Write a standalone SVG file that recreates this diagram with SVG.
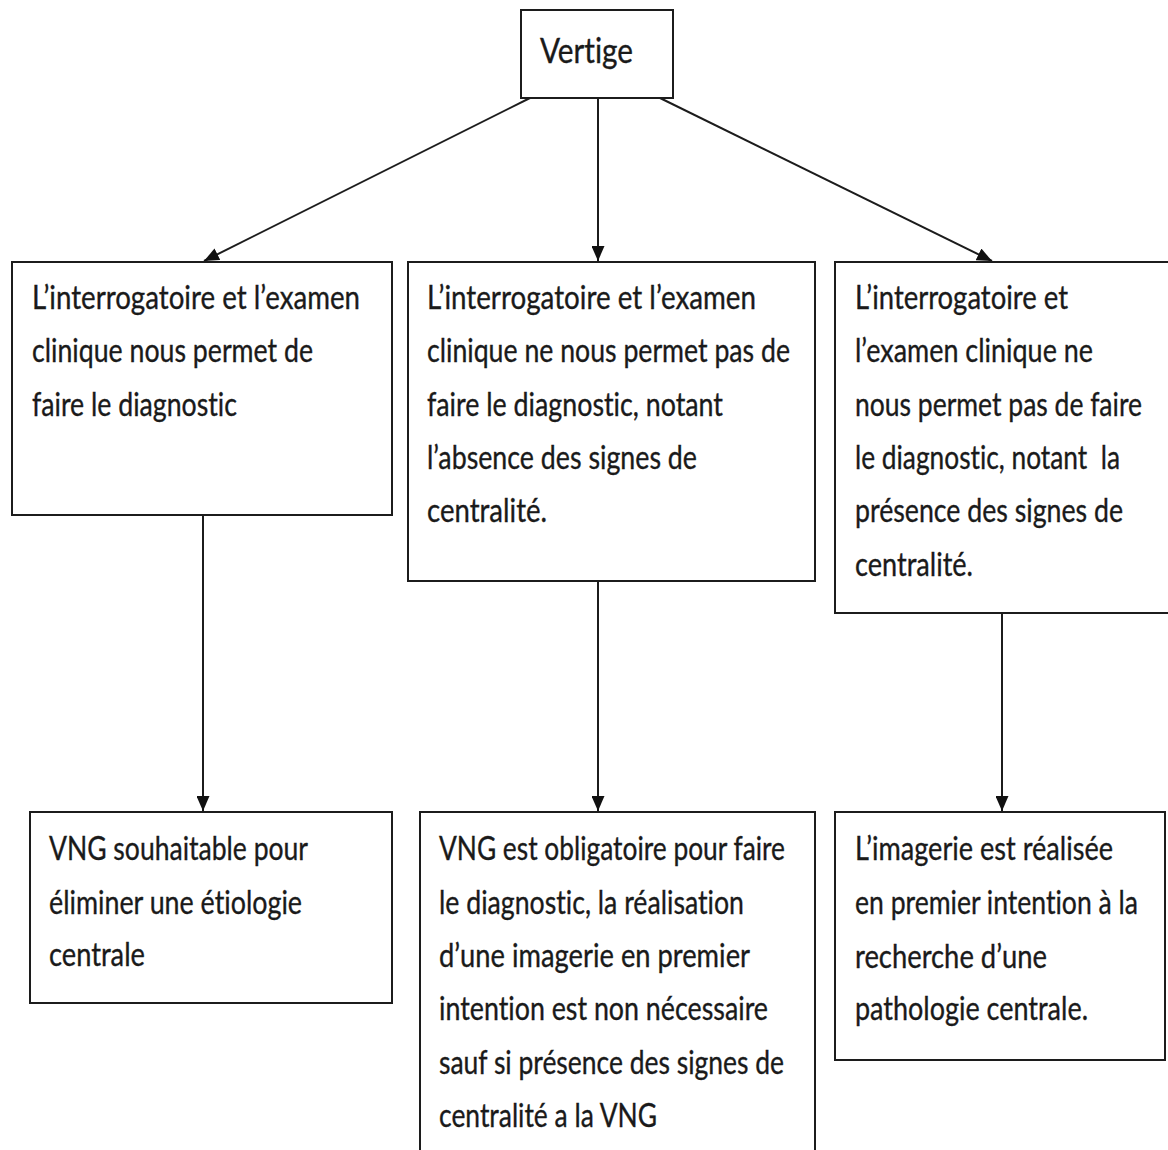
<svg xmlns="http://www.w3.org/2000/svg" width="1168" height="1150" viewBox="0 0 1168 1150">
  <defs>
    <marker id="arrow" markerUnits="userSpaceOnUse" markerWidth="15" markerHeight="13" refX="15" refY="6.5" orient="auto">
      <path d="M0,0 L15,6.5 L0,13 z" fill="#111"/>
    </marker>
    <style>
      .box { fill: #fff; stroke: #1c1c1c; stroke-width: 2; }
      .open { fill: none; stroke: #1c1c1c; stroke-width: 2; }
      .lbl { font-family: Lato, "Open Sans", "Liberation Sans", sans-serif; font-size: 27.5px; fill: #1a1a1a; font-variant-ligatures: none; stroke: #1a1a1a; stroke-width: 0.3; }
      .title { font-size: 29px; }
      .edge { stroke: #1c1c1c; stroke-width: 2; fill: none; marker-end: url(#arrow); }
    </style>
  </defs>
  <rect width="1168" height="1150" fill="#fff"/>

  <!-- connectors -->
  <g id="connectors">
    <line class="edge" x1="530" y1="98" x2="204" y2="261"/>
    <line class="edge" x1="598" y1="98" x2="598" y2="261"/>
    <line class="edge" x1="660" y1="98" x2="992" y2="261"/>
    <line class="edge" x1="203" y1="515" x2="203" y2="811"/>
    <line class="edge" x1="598" y1="581" x2="598" y2="811"/>
    <line class="edge" x1="1002" y1="613" x2="1002" y2="811"/>
  </g>

  <!-- labels use tall, narrow lettering: each text group is stretched 1.2x vertically,
       so its y values are the baselines divided by 1.2 -->

  <!-- root -->
  <g id="vertige">
    <rect class="box" x="521" y="10" width="152" height="88"/>
    <g transform="scale(1,1.2)">
      <text class="lbl title" x="540" y="52.5" textLength="93" lengthAdjust="spacingAndGlyphs">Vertige</text>
    </g>
  </g>

  <!-- first level -->
  <g id="diag-ok">
    <rect class="box" x="12" y="262" width="380" height="253"/>
    <g transform="scale(1,1.2)">
      <text class="lbl" x="32" y="257.5" textLength="328" lengthAdjust="spacingAndGlyphs">L’interrogatoire et l’examen</text>
      <text class="lbl" x="32" y="301.7" textLength="281" lengthAdjust="spacingAndGlyphs">clinique nous permet de</text>
      <text class="lbl" x="32" y="346.7" textLength="205" lengthAdjust="spacingAndGlyphs">faire le diagnostic</text>
    </g>
  </g>

  <g id="diag-absence">
    <rect class="box" x="408" y="262" width="407" height="319"/>
    <g transform="scale(1,1.2)">
      <text class="lbl" x="427" y="257.5" textLength="329" lengthAdjust="spacingAndGlyphs">L’interrogatoire et l’examen</text>
      <text class="lbl" x="427" y="301.7" textLength="363" lengthAdjust="spacingAndGlyphs">clinique ne nous permet pas de</text>
      <text class="lbl" x="427" y="346.7" textLength="296" lengthAdjust="spacingAndGlyphs">faire le diagnostic, notant</text>
      <text class="lbl" x="427" y="390.8" textLength="270" lengthAdjust="spacingAndGlyphs">l’absence des signes de</text>
      <text class="lbl" x="427" y="435" textLength="120" lengthAdjust="spacingAndGlyphs">centralité.</text>
    </g>
  </g>

  <!-- this box runs on past the right border, so its right side is not drawn -->
  <g id="diag-presence">
    <rect x="835" y="262" width="333" height="351" fill="#fff"/>
    <path class="open" d="M1168,262 H835 V613 H1168"/>
    <g transform="scale(1,1.2)">
      <text class="lbl" x="855" y="257.5" textLength="213" lengthAdjust="spacingAndGlyphs">L’interrogatoire et</text>
      <text class="lbl" x="855" y="301.7" textLength="238" lengthAdjust="spacingAndGlyphs">l’examen clinique ne</text>
      <text class="lbl" x="855" y="346.7" textLength="287" lengthAdjust="spacingAndGlyphs">nous permet pas de faire</text>
      <text class="lbl" x="855" y="390.8" textLength="265" lengthAdjust="spacingAndGlyphs" xml:space="preserve">le diagnostic, notant  la</text>
      <text class="lbl" x="855" y="435" textLength="268" lengthAdjust="spacingAndGlyphs">présence des signes de</text>
      <text class="lbl" x="855" y="480" textLength="118" lengthAdjust="spacingAndGlyphs">centralité.</text>
    </g>
  </g>

  <!-- second level -->
  <g id="vng-souhaitable">
    <rect class="box" x="30" y="812" width="362" height="191"/>
    <g transform="scale(1,1.2)">
      <text class="lbl" x="49" y="716.7" textLength="259" lengthAdjust="spacingAndGlyphs">VNG souhaitable pour</text>
      <text class="lbl" x="49" y="761.7" textLength="253" lengthAdjust="spacingAndGlyphs">éliminer une étiologie</text>
      <text class="lbl" x="49" y="805" textLength="96" lengthAdjust="spacingAndGlyphs">centrale</text>
    </g>
  </g>

  <!-- this box runs on past the bottom border, so its bottom side is not drawn -->
  <g id="vng-obligatoire">
    <rect x="420" y="812" width="395" height="338" fill="#fff"/>
    <path class="open" d="M420,1150 V812 H815 V1150"/>
    <g transform="scale(1,1.2)">
      <text class="lbl" x="439" y="716.7" textLength="346" lengthAdjust="spacingAndGlyphs">VNG est obligatoire pour faire</text>
      <text class="lbl" x="439" y="761.7" textLength="305" lengthAdjust="spacingAndGlyphs">le diagnostic, la réalisation</text>
      <text class="lbl" x="439" y="805.8" textLength="311" lengthAdjust="spacingAndGlyphs">d’une imagerie en premier</text>
      <text class="lbl" x="439" y="850" textLength="329" lengthAdjust="spacingAndGlyphs">intention est non nécessaire</text>
      <text class="lbl" x="439" y="895" textLength="345" lengthAdjust="spacingAndGlyphs">sauf si présence des signes de</text>
      <text class="lbl" x="439" y="939.2" textLength="218" lengthAdjust="spacingAndGlyphs">centralité a la VNG</text>
    </g>
  </g>

  <g id="imagerie">
    <rect class="box" x="835" y="812" width="330" height="248"/>
    <g transform="scale(1,1.2)">
      <text class="lbl" x="855" y="716.7" textLength="258" lengthAdjust="spacingAndGlyphs">L’imagerie est réalisée</text>
      <text class="lbl" x="855" y="761.7" textLength="283" lengthAdjust="spacingAndGlyphs">en premier intention à la</text>
      <text class="lbl" x="855" y="806.7" textLength="192" lengthAdjust="spacingAndGlyphs">recherche d’une</text>
      <text class="lbl" x="855" y="850" textLength="233" lengthAdjust="spacingAndGlyphs">pathologie centrale.</text>
    </g>
  </g>
</svg>
